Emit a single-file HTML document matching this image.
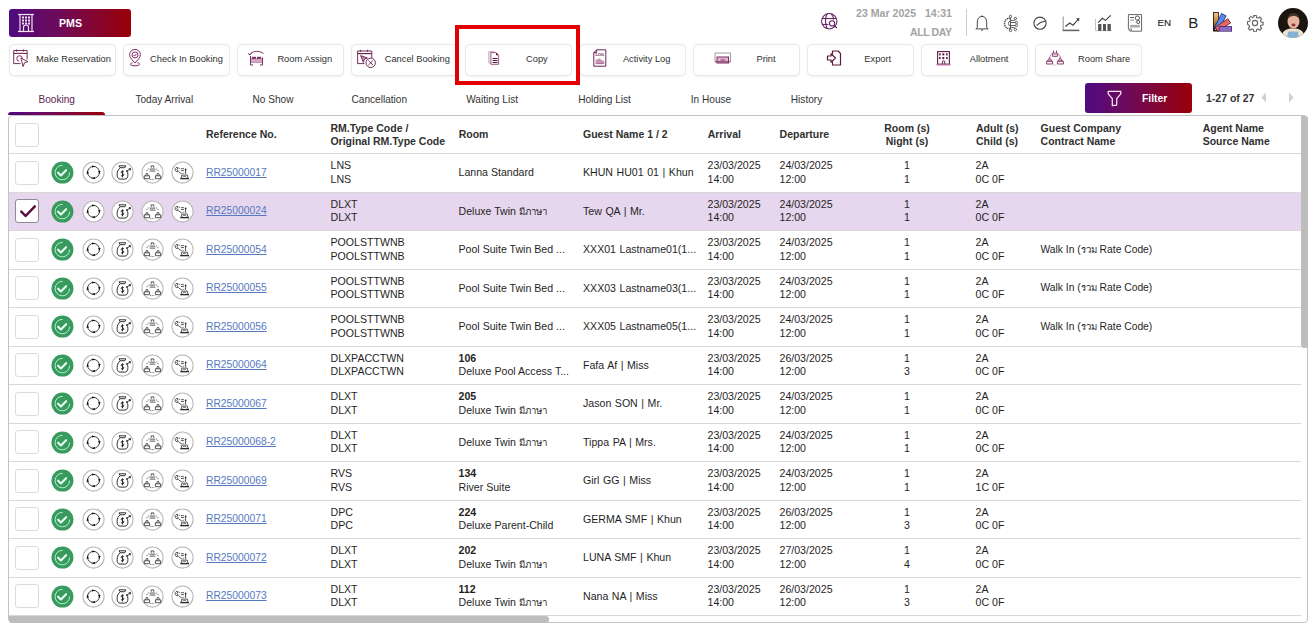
<!DOCTYPE html>
<html><head><meta charset="utf-8"><title>PMS Booking</title><style>
.th{font-size:9.6px}
*{margin:0;padding:0;box-sizing:border-box}
html,body{width:1315px;height:630px;overflow:hidden;background:#fff}
body{position:relative;font-family:"Liberation Sans",sans-serif;color:#2b2b2b}
.a{position:absolute;white-space:pre;line-height:14px}
.grad{background:linear-gradient(90deg,#4e0b80 0%,#6e0a5a 40%,#9a0008 100%)}
.btn{position:absolute;top:44px;height:31.8px;width:107.8px;border:1px solid #e9e9e9;border-radius:5px;background:#fff;box-shadow:0 0.5px 1.5px rgba(0,0,0,0.06)}
.bt{position:absolute;top:53px;font-size:9.3px;line-height:12px;color:#303030;white-space:pre}
.tab{position:absolute;top:93.7px;font-size:10.1px;line-height:12px;color:#333;white-space:pre}
.hd{position:absolute;font-weight:bold;font-size:10.5px;line-height:13px;color:#303030;white-space:pre}
.t{position:absolute;font-size:10.6px;line-height:14px;color:#1f1f1f;white-space:pre}
.row{position:absolute;left:9px;width:1292px;height:39px;border-bottom:1px solid #dedede}
.cb{position:absolute;left:15px;width:24px;height:24px;border:1px solid #dcdbe3;border-radius:3px;background:#fff}
.ic{position:absolute;width:22px;height:22px}
.lnk{color:#5679c0;text-decoration:underline;text-decoration-thickness:1px;text-underline-offset:1px}
</style></head>
<body>
<div class="grad" style="position:absolute;left:9px;top:9px;width:122px;height:28px;border-radius:3px"></div>
<svg style="position:absolute;left:17px;top:13px" width="18" height="20" viewBox="0 0 18 20">
<g fill="none" stroke="#f0e6f0" stroke-width="1.2">
<line x1="1" y1="1.5" x2="17" y2="1.5"/><line x1="1" y1="18.5" x2="17" y2="18.5"/>
<line x1="3" y1="1.5" x2="3" y2="18.5"/><line x1="15" y1="1.5" x2="15" y2="18.5"/>
<path d="M6.5 18.5 V14.5 a2.5 2.5 0 0 1 5 0 V18.5"/>
</g>
<g fill="#f0e6f0">
<rect x="5" y="3.5" width="2" height="2"/><rect x="8" y="3.5" width="2" height="2"/><rect x="11" y="3.5" width="2" height="2"/>
<rect x="5" y="6.5" width="2" height="2"/><rect x="8" y="6.5" width="2" height="2"/><rect x="11" y="6.5" width="2" height="2"/>
<rect x="5" y="9.5" width="2" height="2"/><rect x="8" y="9.5" width="2" height="2"/><rect x="11" y="9.5" width="2" height="2"/>
</g></svg>
<div class="a" style="left:59px;top:15.8px;font-size:10.6px;font-weight:bold;color:#fff;line-height:14px">PMS</div>
<svg style="position:absolute;left:816px;top:8px" width="28" height="26" viewBox="0 0 28 26">
<g fill="none" stroke="#5e1c5e" stroke-width="1.05">
<circle cx="13.25" cy="13.25" r="7.7"/><path d="M11.2 6 C9 9 9 17 11.2 20.5"/><path d="M15.3 6 C17 8 17.6 10 17.5 11.5"/><line x1="6" y1="10.6" x2="20.5" y2="10.6"/><line x1="6" y1="16.4" x2="12.5" y2="16.4"/>
<circle cx="16.1" cy="15.4" r="2.6" fill="#fff"/><line x1="18" y1="17.3" x2="20.8" y2="20"/>
</g></svg>
<div class="a" style="left:856px;top:6px;font-size:10.6px;font-weight:bold;color:#a3a3a3">23 Mar 2025   14:31</div>
<div class="a" style="left:910px;top:25.2px;font-size:10.5px;letter-spacing:-0.4px;font-weight:bold;color:#a3a3a3">ALL DAY</div>
<div style="position:absolute;left:966px;top:9px;width:1px;height:27px;background:#cfcfcf"></div>
<svg style="position:absolute;left:974px;top:13px" width="16" height="19" viewBox="0 0 16 19">
<g fill="none" stroke="#4a4a4a" stroke-width="1"><path d="M3.3 14.6 V9.2 C3.3 5.6 5.2 3.4 8 3.4 C10.8 3.4 12.7 5.6 12.7 9.2 V14.6 L14.2 15.9 H1.8 Z" stroke-linejoin="round"/></g>
<path d="M7 3.3 L8 2.2 L9 3.3 Z" fill="#4a4a4a"/><rect x="7" y="16.6" width="2" height="1" fill="#4a4a4a"/></svg>
<svg style="position:absolute;left:1000px;top:12px" width="22" height="22" viewBox="0 0 22 22">
<g fill="none" stroke="#555" stroke-width="0.95">
<line x1="10.5" y1="5.6" x2="10.5" y2="17.3"/>
<circle cx="10.5" cy="4.4" r="1.2"/><circle cx="10.5" cy="18.5" r="1.2"/>
<circle cx="15.4" cy="6.5" r="1.2"/><circle cx="16.4" cy="10.5" r="1.1"/><circle cx="16.4" cy="13.5" r="1.1"/><circle cx="15.4" cy="17.5" r="1.2"/>
<path d="M10.5 8.4 H14.5 L15.2 7.6 M10.5 10.5 H15.3 M10.5 13.5 H15.3 M10.5 15.6 H14.5 L15 16.4"/>
<path d="M10 6.3 C6 6.3 4.5 9 4.6 11.5 C4.5 14 6 16.7 10 16.7" stroke-width="1.6" stroke-dasharray="1.3 0.7"/>
<path d="M10.5 8.8 A2.8 2.8 0 0 0 10.5 14.2"/>
</g></svg>
<svg style="position:absolute;left:1033px;top:16px" width="14" height="14" viewBox="0 0 14 14">
<g fill="none" stroke="#444" stroke-width="1.1"><circle cx="7" cy="7.2" r="6.1"/><path d="M3.6 9.4 C6 7 9 5.6 12.6 5"/></g></svg>
<svg style="position:absolute;left:1060px;top:14px" width="22" height="19" viewBox="0 0 22 19">
<path d="M3.2 2.5 V16.2" stroke="#9a9a9a" stroke-width="1.1"/><path d="M2.7 16.4 H19.4" stroke="#666" stroke-width="1.6"/>
<path d="M5.4 12.5 L9.7 9 L13 11.2 L18.6 5" fill="none" stroke="#3e3e3e" stroke-width="1.1"/><path d="M16 4.4 L19.4 4 L19 7.4 Z" fill="#3e3e3e"/>
</svg>
<svg style="position:absolute;left:1090px;top:10px" width="24" height="24" viewBox="0 0 24 24">
<path d="M5.5 9 V20.7 H21.8" fill="none" stroke="#c4c4c4" stroke-width="1"/>
<g fill="#555"><rect x="8.1" y="14" width="3.3" height="6.9"/><rect x="13" y="14" width="3" height="6.9"/><rect x="17.5" y="14" width="3.3" height="6.9"/></g>
<path d="M8.1 12.6 L12.4 8.3 L15.5 10.4 L20.7 5.3" fill="none" stroke="#3e3e3e" stroke-width="1.1"/>
</svg>
<svg style="position:absolute;left:1126px;top:10px" width="18" height="24" viewBox="36 0 18 24">
<path d="M38.4 4.6 H51.6 V21.2 H41.2 C40 21.2 38.4 20 38.4 18.4 Z" fill="none" stroke="#666" stroke-width="1"/>
<circle cx="40.6" cy="19.6" r="1" fill="none" stroke="#666" stroke-width="0.9"/>
<circle cx="47.4" cy="8.1" r="2.1" fill="none" stroke="#555" stroke-width="1"/><circle cx="48.2" cy="12" r="1.6" fill="none" stroke="#555" stroke-width="1"/>
<rect x="40.2" y="7" width="3.8" height="1" fill="#555"/><rect x="40.2" y="9.4" width="3.8" height="1.4" fill="#aaa"/><rect x="45.5" y="11.5" width="1.6" height="1" fill="#999"/>
<rect x="40.2" y="14.9" width="9.6" height="2.6" fill="#a9a9a9"/>
</svg>
<div class="a" style="left:1157.5px;top:16.3px;font-size:9.8px;color:#222;-webkit-text-stroke:0.12px #222">EN</div>
<div class="a" style="left:1188.3px;top:13.6px;font-size:15px;color:#222;line-height:18px">B</div>
<svg style="position:absolute;left:1208px;top:8px" width="28" height="28" viewBox="0 0 28 28">
<defs><linearGradient id="tan" x1="0" y1="0" x2="0" y2="1"><stop offset="0" stop-color="#f3c98a"/><stop offset="0.55" stop-color="#c98c3e"/><stop offset="1" stop-color="#6e4515"/></linearGradient></defs>
<rect x="5" y="4" width="5.8" height="19.5" fill="#1a120c"/>
<rect x="5.8" y="4.8" width="4.2" height="14.5" fill="url(#tan)"/>
<circle cx="7.6" cy="21.3" r="0.8" fill="#fff"/>
<g transform="rotate(27 8.2 21.5)"><rect x="5.4" y="4.5" width="5.8" height="17" fill="#1c2f6e"/><rect x="6.1" y="5.2" width="4.4" height="15.6" fill="#5b8be8"/></g>
<g transform="rotate(56 8.2 21.5)"><rect x="5.5" y="5.5" width="5.6" height="16" fill="#6a2525"/><rect x="6.2" y="6.2" width="4.2" height="14.6" fill="#e46a6a"/></g>
<rect x="10.8" y="18.2" width="13.2" height="5.4" fill="#35215e"/>
<rect x="11.5" y="18.9" width="11.8" height="4" fill="#8e6bc9"/>
</svg>
<svg style="position:absolute;left:1246px;top:14px" width="18" height="18" viewBox="0 0 24 24">
<g fill="none" stroke="#666" stroke-width="1.5"><circle cx="12" cy="12" r="3.5"/>
<path d="M10.3 2h3.4l.5 2.8 1.9.8 2.3-1.6 2.4 2.4-1.6 2.3.8 1.9 2.8.5v3.4l-2.8.5-.8 1.9 1.6 2.3-2.4 2.4-2.3-1.6-1.9.8-.5 2.8h-3.4l-.5-2.8-1.9-.8-2.3 1.6-2.4-2.4 1.6-2.3-.8-1.9L2 13.7v-3.4l2.8-.5.8-1.9L4 5.6 6.4 3.2l2.3 1.6 1.9-.8z"/></g></svg>
<svg style="position:absolute;left:1278px;top:8px" width="30" height="30" viewBox="0 0 30 30">
<defs><clipPath id="av"><circle cx="15" cy="15" r="15"/></clipPath></defs>
<g clip-path="url(#av)">
<rect width="30" height="30" fill="#1b1512"/>
<path d="M3 30 C4 22 9 20.5 15 20.5 C21 20.5 26 22 27 30 Z" fill="#eee3c8"/>
<path d="M9 30 L10 23.5 H20 L21 30 Z" fill="#86b2d6"/>
<ellipse cx="15.5" cy="13.5" rx="6" ry="7" fill="#e7b49b"/>
<path d="M9.5 11 C10 6 13 5 16 5.2 C19.5 5.4 21.5 8 21.5 11 C20 8.5 17 8 15.5 8 C13 8 11 9 9.5 11 Z" fill="#4a3328"/>
<ellipse cx="15.5" cy="17" rx="2" ry="1.4" fill="#8a3a3a"/>
</g></svg>
<div class="btn" style="left:8.6px"></div>
<div class="bt" style="left:36.0px">Make Reservation</div>
<div class="btn" style="left:122.6px"></div>
<div class="bt" style="left:150.0px">Check In Booking</div>
<div class="btn" style="left:236.6px"></div>
<div class="bt" style="left:277.4px">Room Assign</div>
<div class="btn" style="left:350.6px"></div>
<div class="bt" style="left:384.7px">Cancel Booking</div>
<div class="btn" style="left:464.6px"></div>
<div class="bt" style="left:526.0px">Copy</div>
<div class="btn" style="left:578.6px"></div>
<div class="bt" style="left:622.9px">Activity Log</div>
<div class="btn" style="left:692.6px"></div>
<div class="bt" style="left:756.5px">Print</div>
<div class="btn" style="left:806.6px"></div>
<div class="bt" style="left:864.3px">Export</div>
<div class="btn" style="left:920.6px"></div>
<div class="bt" style="left:969.7px">Allotment</div>
<div class="btn" style="left:1034.6px"></div>
<div class="bt" style="left:1078.0px">Room Share</div>
<svg style="position:absolute;left:13px;top:49px" width="16" height="19" viewBox="0 0 16 19"><g fill="none" stroke="#6e2552" stroke-width="0.95"><path d="M0.7 1.5 H14.1 V10.5 M0.7 1.5 V14.6 H7.6"/><line x1="0.7" y1="4.4" x2="14.1" y2="4.4" stroke-width="1.1"/><line x1="3.6" y1="0.4" x2="3.6" y2="2.6"/><line x1="10.4" y1="0.4" x2="10.4" y2="2.6"/><path d="M6.2 12.3 A2.8 2.8 0 1 1 9.4 9.2"/><path d="M7.9 9 L15 12.7 L11.6 13.6 L10.1 17.6 Z" stroke-linejoin="round" fill="#fff"/></g></svg>
<svg style="position:absolute;left:128px;top:49px" width="14" height="18" viewBox="0 0 14 18"><g fill="none" stroke="#7d2e62" stroke-width="1"><path d="M7 14 L2.8 9.2 A5.4 5.4 0 1 1 11.2 9.2 Z" stroke-linejoin="round"/><circle cx="7" cy="5.9" r="3"/><path d="M5.6 6 L6.6 7 L8.5 4.9"/><path d="M4.5 13.8 C1.5 14.2 1.2 16.8 7 16.8 C12.8 16.8 12.5 14.2 9.5 13.8"/></g></svg>
<svg style="position:absolute;left:247px;top:50px" width="18" height="16" viewBox="0 0 18 16"><g fill="none" stroke="#7d2e62" stroke-width="1"><path d="M3 4.5 C6 0.5 12 0.5 16.5 3.5"/><path d="M1 3.5 L3 5 L4.5 2.5"/><path d="M3.5 6 V15 M3.5 12 H15.5 M15.5 7.5 V15 M3.5 9 H15.5 M3.5 15 H6 M13 15 H15.5"/></g><rect x="5" y="6.8" width="4" height="2" fill="#7d2e62"/><rect x="10" y="6.8" width="4" height="2" fill="#7d2e62"/><rect x="4" y="9.5" width="11" height="2.3" fill="#d8a8c6"/></svg>
<svg style="position:absolute;left:356px;top:49px" width="21" height="20" viewBox="0 0 21 20"><g fill="none" stroke="#6e2552" stroke-width="0.95"><path d="M1.6 2 H15.8 V9.5 M1.6 2 V14.6 H8.5"/><line x1="1.6" y1="4.6" x2="15.8" y2="4.6" stroke-width="1.2"/><line x1="4.6" y1="0.8" x2="4.6" y2="3"/><line x1="11.6" y1="0.8" x2="11.6" y2="3"/><path d="M4.6 6.6 L11.4 9 L8.4 10.2 L7.4 13.4 Z" fill="#c98ab3"/><circle cx="14.7" cy="13.8" r="4.7" fill="#fff"/><path d="M12.4 11.5 L17 16.1 M17 11.5 L12.4 16.1"/></g></svg>
<svg style="position:absolute;left:488px;top:51px" width="12" height="14" viewBox="0 0 12 14"><path d="M0.8 0.6 H6 V12 H0.8 Z" fill="#f3e6ef" stroke="#c9a3bd" stroke-width="0.9"/><path d="M2.9 1.6 H8 L10.6 4.2 V13.3 H2.9 Z" fill="#fff" stroke="#8a4a74" stroke-width="0.9"/><g stroke="#4d1535" stroke-width="1"><line x1="4.6" y1="7.5" x2="9.6" y2="7.5"/><line x1="4.6" y1="9.5" x2="9.6" y2="9.5"/><line x1="4.6" y1="11.5" x2="9.6" y2="11.5"/></g><path d="M8 1.6 L10.6 4.2 H8 Z" fill="#4d1535"/></svg>
<svg style="position:absolute;left:593px;top:49px" width="14" height="18" viewBox="0 0 14 18"><path d="M3.6 0.8 H12.8 V17.2 H0.8 V3.6 Z M0.8 3.6 H3.6 V0.8" fill="none" stroke="#6e2552" stroke-width="1" stroke-linejoin="round"/><text x="2.4" y="7.4" font-size="4.2" font-weight="bold" font-family="Liberation Sans, sans-serif" fill="#6e2552" textLength="8.6">LOG</text><path d="M2.6 14.2 V10.6 H5 V9.4 H7.6 V11 H9.6 V12 H11.2 V14.2 Z" fill="#c793b5"/><rect x="2.6" y="14.2" width="8.6" height="0.9" fill="#9a5a84"/></svg>
<svg style="position:absolute;left:714px;top:52px" width="18" height="12" viewBox="0 0 18 12"><path d="M1 9.5 V1 H16.5 V9.5" fill="none" stroke="#9c8a96" stroke-width="0.9"/><rect x="3" y="5" width="11.5" height="6" fill="#e0b4cf" stroke="#7d2e62" stroke-width="1"/><line x1="1" y1="9.8" x2="16.5" y2="9.8" stroke="#7d2e62" stroke-width="1"/><line x1="6.5" y1="8" x2="11" y2="8" stroke="#7d2e62" stroke-width="0.9"/></svg>
<svg style="position:absolute;left:826px;top:50px" width="16" height="16" viewBox="0 0 16 16"><g fill="none" stroke="#5b1a3c" stroke-width="1.2" stroke-linejoin="round"><path d="M6.5 4.5 V1 H12 L14.5 3.5 V15 H6.5 V11.5"/><path d="M1.5 6 H5 V3.8 L9.5 8 L5 12.2 V10 H1.5 Z"/></g></svg>
<svg style="position:absolute;left:932px;top:47px" width="24" height="22" viewBox="0 0 24 22"><rect x="5.6" y="4.6" width="11.8" height="12.6" fill="none" stroke="#5e1d44" stroke-width="1.1"/><rect x="4.5" y="16.8" width="14" height="1.6" fill="#b76a9a"/><g fill="#5e1d44"><rect x="7.1" y="6.3" width="1.6" height="2.1"/><rect x="10.3" y="6.3" width="2" height="2.1"/><rect x="14" y="6.3" width="1.6" height="2.1"/><rect x="7.1" y="10" width="1.6" height="2.1"/><rect x="10.3" y="10" width="2" height="2.1"/><rect x="14" y="10" width="1.6" height="2.1"/></g><path d="M10.4 16.8 V14.9 A1.2 1.2 0 0 1 12.8 14.9 V16.8" fill="none" stroke="#5e1d44" stroke-width="1"/></svg>
<svg style="position:absolute;left:1043px;top:47px" width="24" height="22" viewBox="0 0 24 22"><g fill="none" stroke="#7d2e62" stroke-width="0.9"><path d="M10.5 3.6 V6 M13.5 3.6 V6"/><path d="M9.4 6.2 H14.6 V9.3 H9.4 Z"/><path d="M6.5 10.5 C7.5 8 8.5 7 9.4 7 M14.6 7 C15.5 7 16.5 8 17.5 10.5" stroke="#b07aa0"/><path d="M4.4 14 L6.6 10.6 L8.8 14 Z M15 14 L17.2 10.6 L19.4 14 Z"/><path d="M3.6 14.2 H9.6 V17 H3.6 Z M14.4 14.2 H20.4 V17 H14.4 Z"/><path d="M10 18 H14" stroke="#b9a0b0" stroke-dasharray="1 0.8"/></g><path d="M5 13.6 L6.6 11.4 L8.2 13.6 Z M15.6 13.6 L17.2 11.4 L18.8 13.6 Z" fill="#c98ab3"/><rect x="9.9" y="6.8" width="4.2" height="1.5" fill="#d7a8c6"/></svg>
<div style="position:absolute;left:455px;top:25px;width:125px;height:60px;border:4px solid #e30000"></div>
<div class="tab" style="left:38.5px;color:#5b2550;">Booking</div>
<div class="tab" style="left:135.4px;">Today Arrival</div>
<div class="tab" style="left:252.5px;">No Show</div>
<div class="tab" style="left:351.5px;">Cancellation</div>
<div class="tab" style="left:466.2px;">Waiting List</div>
<div class="tab" style="left:578.2px;">Holding List</div>
<div class="tab" style="left:690.8px;">In House</div>
<div class="tab" style="left:790.8px;">History</div>
<div class="grad" style="position:absolute;left:1085px;top:83px;width:107px;height:30px;border-radius:3px"></div>
<svg style="position:absolute;left:1107px;top:90px" width="15" height="17" viewBox="0 0 15 17">
<path d="M1.2 1.3 H13.8 V3.8 L9.7 8.6 V15.1 L5.3 15.6 V8.6 L1.2 3.8 Z" fill="none" stroke="#fbe6f4" stroke-width="1.25" stroke-linejoin="round"/></svg>
<div class="a" style="left:1142px;top:91.8px;font-size:10.3px;font-weight:bold;color:#fff">Filter</div>
<div class="a" style="left:1206px;top:91px;font-size:10.5px;font-weight:bold;color:#333">1-27 of 27</div>
<svg style="position:absolute;left:1261px;top:92px" width="6" height="11" viewBox="0 0 6 11"><path d="M5 0.5 L0.5 5.5 L5 10.5 Z" fill="#cfcfcf"/></svg>
<svg style="position:absolute;left:1288px;top:92px" width="6" height="11" viewBox="0 0 6 11"><path d="M1 0.5 L5.5 5.5 L1 10.5 Z" fill="#cfcfcf"/></svg>
<div style="position:absolute;left:8px;top:115px;width:1300px;height:508px;border:1px solid #c2c2c2;border-radius:4px"></div>
<div class="grad" style="position:absolute;left:8px;top:112px;width:97px;height:3px;border-radius:3px 3px 0 0"></div>
<div style="position:absolute;left:9px;top:153px;width:1292px;height:1px;background:#d9d9d9"></div>
<div class="cb" style="top:123px"></div>
<div class="hd" style="left:206px;top:128px">Reference No.</div>
<div class="hd" style="left:330.4px;top:122px">RM.Type Code /<br>Original RM.Type Code</div>
<div class="hd" style="left:458.7px;top:128px">Room</div>
<div class="hd" style="left:583px;top:128px">Guest Name 1 / 2</div>
<div class="hd" style="left:707.7px;top:128px">Arrival</div>
<div class="hd" style="left:779.6px;top:128px">Departure</div>
<div class="hd" style="left:976px;top:122px">Adult (s)<br>Child (s)</div>
<div class="hd" style="left:1040.6px;top:122px">Guest Company<br>Contract Name</div>
<div class="hd" style="left:1202.7px;top:122px">Agent Name<br>Source Name</div>
<div class="hd" style="left:857px;top:122px;width:100px;text-align:center">Room (s)<br>Night (s)</div>
<div style="position:absolute;left:9px;top:191.5px;width:1292px;height:1px;background:#d9d9d9"></div>
<div class="cb" style="top:160.75px"></div>
<svg style="position:absolute;left:51px;top:161.25px" width="23" height="23" viewBox="0 0 23 23">
<circle cx="11.45" cy="11.6" r="11" fill="#389a5e"/>
<path d="M11.6 4.35 A7.25 7.25 0 1 0 18.6 11.6" fill="none" stroke="#b9f3cd" stroke-width="0.95"/>
<path d="M7.1 11.7 L9.9 14.5 L15.1 9.2" fill="none" stroke="#e6fff0" stroke-width="2.1" stroke-linecap="round" stroke-linejoin="round"/></svg><svg style="position:absolute;left:81.5px;top:161.25px" width="23" height="23" viewBox="-0.5 -0.5 23 23"><circle cx="11" cy="11" r="10.6" fill="#fff" stroke="#b9b9b9" stroke-width="1.05"/><circle cx="11" cy="10.8" r="5.9" fill="none" stroke="#222" stroke-width="0.85"/><path d="M9.6 3.9 L13 4.9 L9.6 6.1 Z M18.1 9.4 L16.9 12.8 L15.7 9.4 Z M12.4 17.7 L9 16.7 L12.4 15.5 Z M3.9 12.2 L5.1 8.8 L6.3 12.2 Z" fill="#111"/></svg><svg style="position:absolute;left:111.0px;top:161.25px" width="23" height="23" viewBox="-0.5 -0.5 23 23"><circle cx="11" cy="11" r="10.6" fill="#fff" stroke="#b9b9b9" stroke-width="1.05"/><g fill="none" stroke="#1a1a1a" stroke-width="0.9" stroke-linejoin="round"><path d="M7.6 4.3 H14.3 L13.3 6.2 H8.6 Z"/><path d="M8.4 6.5 C6.5 8 5.6 10.5 5.6 13.2 C5.6 16 6.6 17.6 8.6 17.6 H13.4 C15.4 17.6 16.4 16 16.4 13.2 C16.4 11.5 16 10 15.2 8.8"/><path d="M12.3 10.2 C11.6 9.5 9.6 9.6 9.7 10.9 C9.8 12 12.3 11.9 12.3 13.3 C12.3 14.6 10.2 14.8 9.4 13.9 M11 8.9 V15.8"/><path d="M14.5 10 L18.8 7.6"/></g><path d="M17 6.6 L19.6 6.9 L18.9 9.3 Z" fill="#2a2a2a"/></svg><svg style="position:absolute;left:141.0px;top:161.25px" width="23" height="23" viewBox="-0.5 -0.5 23 23"><circle cx="11" cy="11" r="10.6" fill="#fff" stroke="#b9b9b9" stroke-width="1.05"/><g fill="none" stroke="#2a2a2a" stroke-width="0.8"><path d="M9.7 6.2 V4.4 H12.3 V6.2"/><path d="M8.2 7.6 H13.8 M8.2 9.6 H13.8"/><path d="M7.3 7.3 Q5.6 8.3 4.9 10.4 M14.7 7.3 Q16.4 8.3 17.1 10.4" stroke-dasharray="1.2 0.8"/><path d="M2.8 17.2 V14.3 H8.1 V17.2 Z M13.9 17.2 V14.3 H19.2 V17.2 Z"/><path d="M4.2 14.2 L4.8 12 H6.1 L6.7 14.2 M15.3 14.2 L15.9 12 H17.2 L17.8 14.2"/><path d="M8.8 18 H13.2" stroke-dasharray="1 1.1"/></g></svg><svg style="position:absolute;left:171.0px;top:161.25px" width="23" height="23" viewBox="-0.5 -0.5 23 23"><circle cx="11" cy="11" r="10.6" fill="#fff" stroke="#b9b9b9" stroke-width="1.05"/><g fill="none" stroke="#2a2a2a" stroke-width="0.8"><path d="M6.6 6.3 C5 5.2 3.4 6.6 3.6 8.3 C3.8 9.8 5.4 10.6 6.8 9.8"/><path d="M6.6 6.3 L5.4 8 L6.8 9.8"/><path d="M7.4 6.8 H8.4 M9.4 7.2 H12.4 M9.4 9.1 H12.4 M7 10.2 L10.4 12.6 M11.2 12.4 L12.4 11.2 M14.1 8.4 V12.6"/><path d="M9.6 16.8 L10.4 13.6 H15.8 L16.6 16.8"/><path d="M11.2 15.8 C11.8 14.6 14.2 14.6 14.8 15.8"/></g><rect x="8.8" y="16.5" width="8.7" height="1.3" fill="#2a2a2a"/><circle cx="14.1" cy="7.9" r="0.9" fill="#2a2a2a"/></svg>
<div class="t lnk" style="left:206px;top:165.9px;font-size:10.3px">RR25000017</div>
<div class="t" style="left:330.5px;top:158.2px">LNS</div><div class="t" style="left:330.5px;top:171.7px">LNS</div>
<div class="t" style="left:458.5px;top:165.1px">Lanna Standard</div>
<div class="t" style="left:583px;top:165.1px;word-spacing:0.6px">KHUN HU01 01 | Khun</div>
<div class="t" style="left:707.5px;top:158.2px">23/03/2025</div><div class="t" style="left:707.5px;top:171.7px">14:00</div>
<div class="t" style="left:779.5px;top:158.2px">24/03/2025</div><div class="t" style="left:779.5px;top:171.7px">12:00</div>
<div class="t" style="left:867px;width:80px;text-align:center;top:158.2px">1</div><div class="t" style="left:867px;width:80px;text-align:center;top:171.7px">1</div>
<div class="t" style="left:975.5px;top:158.2px">2A</div><div class="t" style="left:975.5px;top:171.7px">0C 0F</div>
<div style="position:absolute;left:9px;top:192.5px;width:1292px;height:38.0px;background:#e7d7ee"></div>
<div style="position:absolute;left:9px;top:230.0px;width:1292px;height:1px;background:#d9d9d9"></div>
<div class="cb" style="top:199.25px;border-color:#8f8a95"><svg style="position:absolute;left:2.5px;top:3px" width="18" height="16" viewBox="0 0 18 16"><path d="M2.3 8.6 L6.6 13 L15.8 3.4" fill="none" stroke="#5a0b3d" stroke-width="2.5" stroke-linecap="round" stroke-linejoin="round"/></svg></div>
<svg style="position:absolute;left:51px;top:199.75px" width="23" height="23" viewBox="0 0 23 23">
<circle cx="11.45" cy="11.6" r="11" fill="#389a5e"/>
<path d="M11.6 4.35 A7.25 7.25 0 1 0 18.6 11.6" fill="none" stroke="#b9f3cd" stroke-width="0.95"/>
<path d="M7.1 11.7 L9.9 14.5 L15.1 9.2" fill="none" stroke="#e6fff0" stroke-width="2.1" stroke-linecap="round" stroke-linejoin="round"/></svg><svg style="position:absolute;left:81.5px;top:199.75px" width="23" height="23" viewBox="-0.5 -0.5 23 23"><circle cx="11" cy="11" r="10.6" fill="#fff" stroke="#b9b9b9" stroke-width="1.05"/><circle cx="11" cy="10.8" r="5.9" fill="none" stroke="#222" stroke-width="0.85"/><path d="M9.6 3.9 L13 4.9 L9.6 6.1 Z M18.1 9.4 L16.9 12.8 L15.7 9.4 Z M12.4 17.7 L9 16.7 L12.4 15.5 Z M3.9 12.2 L5.1 8.8 L6.3 12.2 Z" fill="#111"/></svg><svg style="position:absolute;left:111.0px;top:199.75px" width="23" height="23" viewBox="-0.5 -0.5 23 23"><circle cx="11" cy="11" r="10.6" fill="#fff" stroke="#b9b9b9" stroke-width="1.05"/><g fill="none" stroke="#1a1a1a" stroke-width="0.9" stroke-linejoin="round"><path d="M7.6 4.3 H14.3 L13.3 6.2 H8.6 Z"/><path d="M8.4 6.5 C6.5 8 5.6 10.5 5.6 13.2 C5.6 16 6.6 17.6 8.6 17.6 H13.4 C15.4 17.6 16.4 16 16.4 13.2 C16.4 11.5 16 10 15.2 8.8"/><path d="M12.3 10.2 C11.6 9.5 9.6 9.6 9.7 10.9 C9.8 12 12.3 11.9 12.3 13.3 C12.3 14.6 10.2 14.8 9.4 13.9 M11 8.9 V15.8"/><path d="M14.5 10 L18.8 7.6"/></g><path d="M17 6.6 L19.6 6.9 L18.9 9.3 Z" fill="#2a2a2a"/></svg><svg style="position:absolute;left:141.0px;top:199.75px" width="23" height="23" viewBox="-0.5 -0.5 23 23"><circle cx="11" cy="11" r="10.6" fill="#fff" stroke="#b9b9b9" stroke-width="1.05"/><g fill="none" stroke="#2a2a2a" stroke-width="0.8"><path d="M9.7 6.2 V4.4 H12.3 V6.2"/><path d="M8.2 7.6 H13.8 M8.2 9.6 H13.8"/><path d="M7.3 7.3 Q5.6 8.3 4.9 10.4 M14.7 7.3 Q16.4 8.3 17.1 10.4" stroke-dasharray="1.2 0.8"/><path d="M2.8 17.2 V14.3 H8.1 V17.2 Z M13.9 17.2 V14.3 H19.2 V17.2 Z"/><path d="M4.2 14.2 L4.8 12 H6.1 L6.7 14.2 M15.3 14.2 L15.9 12 H17.2 L17.8 14.2"/><path d="M8.8 18 H13.2" stroke-dasharray="1 1.1"/></g></svg><svg style="position:absolute;left:171.0px;top:199.75px" width="23" height="23" viewBox="-0.5 -0.5 23 23"><circle cx="11" cy="11" r="10.6" fill="#fff" stroke="#b9b9b9" stroke-width="1.05"/><g fill="none" stroke="#2a2a2a" stroke-width="0.8"><path d="M6.6 6.3 C5 5.2 3.4 6.6 3.6 8.3 C3.8 9.8 5.4 10.6 6.8 9.8"/><path d="M6.6 6.3 L5.4 8 L6.8 9.8"/><path d="M7.4 6.8 H8.4 M9.4 7.2 H12.4 M9.4 9.1 H12.4 M7 10.2 L10.4 12.6 M11.2 12.4 L12.4 11.2 M14.1 8.4 V12.6"/><path d="M9.6 16.8 L10.4 13.6 H15.8 L16.6 16.8"/><path d="M11.2 15.8 C11.8 14.6 14.2 14.6 14.8 15.8"/></g><rect x="8.8" y="16.5" width="8.7" height="1.3" fill="#2a2a2a"/><circle cx="14.1" cy="7.9" r="0.9" fill="#2a2a2a"/></svg>
<div class="t lnk" style="left:206px;top:204.4px;font-size:10.3px">RR25000024</div>
<div class="t" style="left:330.5px;top:196.7px">DLXT</div><div class="t" style="left:330.5px;top:210.2px">DLXT</div>
<div class="t" style="left:458.5px;top:203.6px">Deluxe Twin <span class="th">มีภาษา</span></div>
<div class="t" style="left:583px;top:203.6px;word-spacing:0.6px">Tew QA | Mr.</div>
<div class="t" style="left:707.5px;top:196.7px">23/03/2025</div><div class="t" style="left:707.5px;top:210.2px">14:00</div>
<div class="t" style="left:779.5px;top:196.7px">24/03/2025</div><div class="t" style="left:779.5px;top:210.2px">12:00</div>
<div class="t" style="left:867px;width:80px;text-align:center;top:196.7px">1</div><div class="t" style="left:867px;width:80px;text-align:center;top:210.2px">1</div>
<div class="t" style="left:975.5px;top:196.7px">2A</div><div class="t" style="left:975.5px;top:210.2px">0C 0F</div>
<div style="position:absolute;left:9px;top:268.5px;width:1292px;height:1px;background:#d9d9d9"></div>
<div class="cb" style="top:237.75px"></div>
<svg style="position:absolute;left:51px;top:238.25px" width="23" height="23" viewBox="0 0 23 23">
<circle cx="11.45" cy="11.6" r="11" fill="#389a5e"/>
<path d="M11.6 4.35 A7.25 7.25 0 1 0 18.6 11.6" fill="none" stroke="#b9f3cd" stroke-width="0.95"/>
<path d="M7.1 11.7 L9.9 14.5 L15.1 9.2" fill="none" stroke="#e6fff0" stroke-width="2.1" stroke-linecap="round" stroke-linejoin="round"/></svg><svg style="position:absolute;left:81.5px;top:238.25px" width="23" height="23" viewBox="-0.5 -0.5 23 23"><circle cx="11" cy="11" r="10.6" fill="#fff" stroke="#b9b9b9" stroke-width="1.05"/><circle cx="11" cy="10.8" r="5.9" fill="none" stroke="#222" stroke-width="0.85"/><path d="M9.6 3.9 L13 4.9 L9.6 6.1 Z M18.1 9.4 L16.9 12.8 L15.7 9.4 Z M12.4 17.7 L9 16.7 L12.4 15.5 Z M3.9 12.2 L5.1 8.8 L6.3 12.2 Z" fill="#111"/></svg><svg style="position:absolute;left:111.0px;top:238.25px" width="23" height="23" viewBox="-0.5 -0.5 23 23"><circle cx="11" cy="11" r="10.6" fill="#fff" stroke="#b9b9b9" stroke-width="1.05"/><g fill="none" stroke="#1a1a1a" stroke-width="0.9" stroke-linejoin="round"><path d="M7.6 4.3 H14.3 L13.3 6.2 H8.6 Z"/><path d="M8.4 6.5 C6.5 8 5.6 10.5 5.6 13.2 C5.6 16 6.6 17.6 8.6 17.6 H13.4 C15.4 17.6 16.4 16 16.4 13.2 C16.4 11.5 16 10 15.2 8.8"/><path d="M12.3 10.2 C11.6 9.5 9.6 9.6 9.7 10.9 C9.8 12 12.3 11.9 12.3 13.3 C12.3 14.6 10.2 14.8 9.4 13.9 M11 8.9 V15.8"/><path d="M14.5 10 L18.8 7.6"/></g><path d="M17 6.6 L19.6 6.9 L18.9 9.3 Z" fill="#2a2a2a"/></svg><svg style="position:absolute;left:141.0px;top:238.25px" width="23" height="23" viewBox="-0.5 -0.5 23 23"><circle cx="11" cy="11" r="10.6" fill="#fff" stroke="#b9b9b9" stroke-width="1.05"/><g fill="none" stroke="#2a2a2a" stroke-width="0.8"><path d="M9.7 6.2 V4.4 H12.3 V6.2"/><path d="M8.2 7.6 H13.8 M8.2 9.6 H13.8"/><path d="M7.3 7.3 Q5.6 8.3 4.9 10.4 M14.7 7.3 Q16.4 8.3 17.1 10.4" stroke-dasharray="1.2 0.8"/><path d="M2.8 17.2 V14.3 H8.1 V17.2 Z M13.9 17.2 V14.3 H19.2 V17.2 Z"/><path d="M4.2 14.2 L4.8 12 H6.1 L6.7 14.2 M15.3 14.2 L15.9 12 H17.2 L17.8 14.2"/><path d="M8.8 18 H13.2" stroke-dasharray="1 1.1"/></g></svg><svg style="position:absolute;left:171.0px;top:238.25px" width="23" height="23" viewBox="-0.5 -0.5 23 23"><circle cx="11" cy="11" r="10.6" fill="#fff" stroke="#b9b9b9" stroke-width="1.05"/><g fill="none" stroke="#2a2a2a" stroke-width="0.8"><path d="M6.6 6.3 C5 5.2 3.4 6.6 3.6 8.3 C3.8 9.8 5.4 10.6 6.8 9.8"/><path d="M6.6 6.3 L5.4 8 L6.8 9.8"/><path d="M7.4 6.8 H8.4 M9.4 7.2 H12.4 M9.4 9.1 H12.4 M7 10.2 L10.4 12.6 M11.2 12.4 L12.4 11.2 M14.1 8.4 V12.6"/><path d="M9.6 16.8 L10.4 13.6 H15.8 L16.6 16.8"/><path d="M11.2 15.8 C11.8 14.6 14.2 14.6 14.8 15.8"/></g><rect x="8.8" y="16.5" width="8.7" height="1.3" fill="#2a2a2a"/><circle cx="14.1" cy="7.9" r="0.9" fill="#2a2a2a"/></svg>
<div class="t lnk" style="left:206px;top:242.9px;font-size:10.3px">RR25000054</div>
<div class="t" style="left:330.5px;top:235.2px">POOLSTTWNB</div><div class="t" style="left:330.5px;top:248.7px">POOLSTTWNB</div>
<div class="t" style="left:458.5px;top:242.1px">Pool Suite Twin Bed ...</div>
<div class="t" style="left:583px;top:242.1px;word-spacing:0.6px">XXX01 Lastname01(1...</div>
<div class="t" style="left:707.5px;top:235.2px">23/03/2025</div><div class="t" style="left:707.5px;top:248.7px">14:00</div>
<div class="t" style="left:779.5px;top:235.2px">24/03/2025</div><div class="t" style="left:779.5px;top:248.7px">12:00</div>
<div class="t" style="left:867px;width:80px;text-align:center;top:235.2px">1</div><div class="t" style="left:867px;width:80px;text-align:center;top:248.7px">1</div>
<div class="t" style="left:975.5px;top:235.2px">2A</div><div class="t" style="left:975.5px;top:248.7px">0C 0F</div>
<div class="t" style="left:1040.5px;top:242.79999999999998px;font-size:10.3px">Walk In (<span class="th">รวม</span> Rate Code)</div>
<div style="position:absolute;left:9px;top:307.0px;width:1292px;height:1px;background:#d9d9d9"></div>
<div class="cb" style="top:276.25px"></div>
<svg style="position:absolute;left:51px;top:276.75px" width="23" height="23" viewBox="0 0 23 23">
<circle cx="11.45" cy="11.6" r="11" fill="#389a5e"/>
<path d="M11.6 4.35 A7.25 7.25 0 1 0 18.6 11.6" fill="none" stroke="#b9f3cd" stroke-width="0.95"/>
<path d="M7.1 11.7 L9.9 14.5 L15.1 9.2" fill="none" stroke="#e6fff0" stroke-width="2.1" stroke-linecap="round" stroke-linejoin="round"/></svg><svg style="position:absolute;left:81.5px;top:276.75px" width="23" height="23" viewBox="-0.5 -0.5 23 23"><circle cx="11" cy="11" r="10.6" fill="#fff" stroke="#b9b9b9" stroke-width="1.05"/><circle cx="11" cy="10.8" r="5.9" fill="none" stroke="#222" stroke-width="0.85"/><path d="M9.6 3.9 L13 4.9 L9.6 6.1 Z M18.1 9.4 L16.9 12.8 L15.7 9.4 Z M12.4 17.7 L9 16.7 L12.4 15.5 Z M3.9 12.2 L5.1 8.8 L6.3 12.2 Z" fill="#111"/></svg><svg style="position:absolute;left:111.0px;top:276.75px" width="23" height="23" viewBox="-0.5 -0.5 23 23"><circle cx="11" cy="11" r="10.6" fill="#fff" stroke="#b9b9b9" stroke-width="1.05"/><g fill="none" stroke="#1a1a1a" stroke-width="0.9" stroke-linejoin="round"><path d="M7.6 4.3 H14.3 L13.3 6.2 H8.6 Z"/><path d="M8.4 6.5 C6.5 8 5.6 10.5 5.6 13.2 C5.6 16 6.6 17.6 8.6 17.6 H13.4 C15.4 17.6 16.4 16 16.4 13.2 C16.4 11.5 16 10 15.2 8.8"/><path d="M12.3 10.2 C11.6 9.5 9.6 9.6 9.7 10.9 C9.8 12 12.3 11.9 12.3 13.3 C12.3 14.6 10.2 14.8 9.4 13.9 M11 8.9 V15.8"/><path d="M14.5 10 L18.8 7.6"/></g><path d="M17 6.6 L19.6 6.9 L18.9 9.3 Z" fill="#2a2a2a"/></svg><svg style="position:absolute;left:141.0px;top:276.75px" width="23" height="23" viewBox="-0.5 -0.5 23 23"><circle cx="11" cy="11" r="10.6" fill="#fff" stroke="#b9b9b9" stroke-width="1.05"/><g fill="none" stroke="#2a2a2a" stroke-width="0.8"><path d="M9.7 6.2 V4.4 H12.3 V6.2"/><path d="M8.2 7.6 H13.8 M8.2 9.6 H13.8"/><path d="M7.3 7.3 Q5.6 8.3 4.9 10.4 M14.7 7.3 Q16.4 8.3 17.1 10.4" stroke-dasharray="1.2 0.8"/><path d="M2.8 17.2 V14.3 H8.1 V17.2 Z M13.9 17.2 V14.3 H19.2 V17.2 Z"/><path d="M4.2 14.2 L4.8 12 H6.1 L6.7 14.2 M15.3 14.2 L15.9 12 H17.2 L17.8 14.2"/><path d="M8.8 18 H13.2" stroke-dasharray="1 1.1"/></g></svg><svg style="position:absolute;left:171.0px;top:276.75px" width="23" height="23" viewBox="-0.5 -0.5 23 23"><circle cx="11" cy="11" r="10.6" fill="#fff" stroke="#b9b9b9" stroke-width="1.05"/><g fill="none" stroke="#2a2a2a" stroke-width="0.8"><path d="M6.6 6.3 C5 5.2 3.4 6.6 3.6 8.3 C3.8 9.8 5.4 10.6 6.8 9.8"/><path d="M6.6 6.3 L5.4 8 L6.8 9.8"/><path d="M7.4 6.8 H8.4 M9.4 7.2 H12.4 M9.4 9.1 H12.4 M7 10.2 L10.4 12.6 M11.2 12.4 L12.4 11.2 M14.1 8.4 V12.6"/><path d="M9.6 16.8 L10.4 13.6 H15.8 L16.6 16.8"/><path d="M11.2 15.8 C11.8 14.6 14.2 14.6 14.8 15.8"/></g><rect x="8.8" y="16.5" width="8.7" height="1.3" fill="#2a2a2a"/><circle cx="14.1" cy="7.9" r="0.9" fill="#2a2a2a"/></svg>
<div class="t lnk" style="left:206px;top:281.40000000000003px;font-size:10.3px">RR25000055</div>
<div class="t" style="left:330.5px;top:273.7px">POOLSTTWNB</div><div class="t" style="left:330.5px;top:287.2px">POOLSTTWNB</div>
<div class="t" style="left:458.5px;top:280.6px">Pool Suite Twin Bed ...</div>
<div class="t" style="left:583px;top:280.6px;word-spacing:0.6px">XXX03 Lastname03(1...</div>
<div class="t" style="left:707.5px;top:273.7px">23/03/2025</div><div class="t" style="left:707.5px;top:287.2px">14:00</div>
<div class="t" style="left:779.5px;top:273.7px">24/03/2025</div><div class="t" style="left:779.5px;top:287.2px">12:00</div>
<div class="t" style="left:867px;width:80px;text-align:center;top:273.7px">1</div><div class="t" style="left:867px;width:80px;text-align:center;top:287.2px">1</div>
<div class="t" style="left:975.5px;top:273.7px">2A</div><div class="t" style="left:975.5px;top:287.2px">0C 0F</div>
<div class="t" style="left:1040.5px;top:281.3px;font-size:10.3px">Walk In (<span class="th">รวม</span> Rate Code)</div>
<div style="position:absolute;left:9px;top:345.5px;width:1292px;height:1px;background:#d9d9d9"></div>
<div class="cb" style="top:314.75px"></div>
<svg style="position:absolute;left:51px;top:315.25px" width="23" height="23" viewBox="0 0 23 23">
<circle cx="11.45" cy="11.6" r="11" fill="#389a5e"/>
<path d="M11.6 4.35 A7.25 7.25 0 1 0 18.6 11.6" fill="none" stroke="#b9f3cd" stroke-width="0.95"/>
<path d="M7.1 11.7 L9.9 14.5 L15.1 9.2" fill="none" stroke="#e6fff0" stroke-width="2.1" stroke-linecap="round" stroke-linejoin="round"/></svg><svg style="position:absolute;left:81.5px;top:315.25px" width="23" height="23" viewBox="-0.5 -0.5 23 23"><circle cx="11" cy="11" r="10.6" fill="#fff" stroke="#b9b9b9" stroke-width="1.05"/><circle cx="11" cy="10.8" r="5.9" fill="none" stroke="#222" stroke-width="0.85"/><path d="M9.6 3.9 L13 4.9 L9.6 6.1 Z M18.1 9.4 L16.9 12.8 L15.7 9.4 Z M12.4 17.7 L9 16.7 L12.4 15.5 Z M3.9 12.2 L5.1 8.8 L6.3 12.2 Z" fill="#111"/></svg><svg style="position:absolute;left:111.0px;top:315.25px" width="23" height="23" viewBox="-0.5 -0.5 23 23"><circle cx="11" cy="11" r="10.6" fill="#fff" stroke="#b9b9b9" stroke-width="1.05"/><g fill="none" stroke="#1a1a1a" stroke-width="0.9" stroke-linejoin="round"><path d="M7.6 4.3 H14.3 L13.3 6.2 H8.6 Z"/><path d="M8.4 6.5 C6.5 8 5.6 10.5 5.6 13.2 C5.6 16 6.6 17.6 8.6 17.6 H13.4 C15.4 17.6 16.4 16 16.4 13.2 C16.4 11.5 16 10 15.2 8.8"/><path d="M12.3 10.2 C11.6 9.5 9.6 9.6 9.7 10.9 C9.8 12 12.3 11.9 12.3 13.3 C12.3 14.6 10.2 14.8 9.4 13.9 M11 8.9 V15.8"/><path d="M14.5 10 L18.8 7.6"/></g><path d="M17 6.6 L19.6 6.9 L18.9 9.3 Z" fill="#2a2a2a"/></svg><svg style="position:absolute;left:141.0px;top:315.25px" width="23" height="23" viewBox="-0.5 -0.5 23 23"><circle cx="11" cy="11" r="10.6" fill="#fff" stroke="#b9b9b9" stroke-width="1.05"/><g fill="none" stroke="#2a2a2a" stroke-width="0.8"><path d="M9.7 6.2 V4.4 H12.3 V6.2"/><path d="M8.2 7.6 H13.8 M8.2 9.6 H13.8"/><path d="M7.3 7.3 Q5.6 8.3 4.9 10.4 M14.7 7.3 Q16.4 8.3 17.1 10.4" stroke-dasharray="1.2 0.8"/><path d="M2.8 17.2 V14.3 H8.1 V17.2 Z M13.9 17.2 V14.3 H19.2 V17.2 Z"/><path d="M4.2 14.2 L4.8 12 H6.1 L6.7 14.2 M15.3 14.2 L15.9 12 H17.2 L17.8 14.2"/><path d="M8.8 18 H13.2" stroke-dasharray="1 1.1"/></g></svg><svg style="position:absolute;left:171.0px;top:315.25px" width="23" height="23" viewBox="-0.5 -0.5 23 23"><circle cx="11" cy="11" r="10.6" fill="#fff" stroke="#b9b9b9" stroke-width="1.05"/><g fill="none" stroke="#2a2a2a" stroke-width="0.8"><path d="M6.6 6.3 C5 5.2 3.4 6.6 3.6 8.3 C3.8 9.8 5.4 10.6 6.8 9.8"/><path d="M6.6 6.3 L5.4 8 L6.8 9.8"/><path d="M7.4 6.8 H8.4 M9.4 7.2 H12.4 M9.4 9.1 H12.4 M7 10.2 L10.4 12.6 M11.2 12.4 L12.4 11.2 M14.1 8.4 V12.6"/><path d="M9.6 16.8 L10.4 13.6 H15.8 L16.6 16.8"/><path d="M11.2 15.8 C11.8 14.6 14.2 14.6 14.8 15.8"/></g><rect x="8.8" y="16.5" width="8.7" height="1.3" fill="#2a2a2a"/><circle cx="14.1" cy="7.9" r="0.9" fill="#2a2a2a"/></svg>
<div class="t lnk" style="left:206px;top:319.90000000000003px;font-size:10.3px">RR25000056</div>
<div class="t" style="left:330.5px;top:312.2px">POOLSTTWNB</div><div class="t" style="left:330.5px;top:325.7px">POOLSTTWNB</div>
<div class="t" style="left:458.5px;top:319.1px">Pool Suite Twin Bed ...</div>
<div class="t" style="left:583px;top:319.1px;word-spacing:0.6px">XXX05 Lastname05(1...</div>
<div class="t" style="left:707.5px;top:312.2px">23/03/2025</div><div class="t" style="left:707.5px;top:325.7px">14:00</div>
<div class="t" style="left:779.5px;top:312.2px">24/03/2025</div><div class="t" style="left:779.5px;top:325.7px">12:00</div>
<div class="t" style="left:867px;width:80px;text-align:center;top:312.2px">1</div><div class="t" style="left:867px;width:80px;text-align:center;top:325.7px">1</div>
<div class="t" style="left:975.5px;top:312.2px">2A</div><div class="t" style="left:975.5px;top:325.7px">0C 0F</div>
<div class="t" style="left:1040.5px;top:319.8px;font-size:10.3px">Walk In (<span class="th">รวม</span> Rate Code)</div>
<div style="position:absolute;left:9px;top:384.0px;width:1292px;height:1px;background:#d9d9d9"></div>
<div class="cb" style="top:353.25px"></div>
<svg style="position:absolute;left:51px;top:353.75px" width="23" height="23" viewBox="0 0 23 23">
<circle cx="11.45" cy="11.6" r="11" fill="#389a5e"/>
<path d="M11.6 4.35 A7.25 7.25 0 1 0 18.6 11.6" fill="none" stroke="#b9f3cd" stroke-width="0.95"/>
<path d="M7.1 11.7 L9.9 14.5 L15.1 9.2" fill="none" stroke="#e6fff0" stroke-width="2.1" stroke-linecap="round" stroke-linejoin="round"/></svg><svg style="position:absolute;left:81.5px;top:353.75px" width="23" height="23" viewBox="-0.5 -0.5 23 23"><circle cx="11" cy="11" r="10.6" fill="#fff" stroke="#b9b9b9" stroke-width="1.05"/><circle cx="11" cy="10.8" r="5.9" fill="none" stroke="#222" stroke-width="0.85"/><path d="M9.6 3.9 L13 4.9 L9.6 6.1 Z M18.1 9.4 L16.9 12.8 L15.7 9.4 Z M12.4 17.7 L9 16.7 L12.4 15.5 Z M3.9 12.2 L5.1 8.8 L6.3 12.2 Z" fill="#111"/></svg><svg style="position:absolute;left:111.0px;top:353.75px" width="23" height="23" viewBox="-0.5 -0.5 23 23"><circle cx="11" cy="11" r="10.6" fill="#fff" stroke="#b9b9b9" stroke-width="1.05"/><g fill="none" stroke="#1a1a1a" stroke-width="0.9" stroke-linejoin="round"><path d="M7.6 4.3 H14.3 L13.3 6.2 H8.6 Z"/><path d="M8.4 6.5 C6.5 8 5.6 10.5 5.6 13.2 C5.6 16 6.6 17.6 8.6 17.6 H13.4 C15.4 17.6 16.4 16 16.4 13.2 C16.4 11.5 16 10 15.2 8.8"/><path d="M12.3 10.2 C11.6 9.5 9.6 9.6 9.7 10.9 C9.8 12 12.3 11.9 12.3 13.3 C12.3 14.6 10.2 14.8 9.4 13.9 M11 8.9 V15.8"/><path d="M14.5 10 L18.8 7.6"/></g><path d="M17 6.6 L19.6 6.9 L18.9 9.3 Z" fill="#2a2a2a"/></svg><svg style="position:absolute;left:141.0px;top:353.75px" width="23" height="23" viewBox="-0.5 -0.5 23 23"><circle cx="11" cy="11" r="10.6" fill="#fff" stroke="#b9b9b9" stroke-width="1.05"/><g fill="none" stroke="#2a2a2a" stroke-width="0.8"><path d="M9.7 6.2 V4.4 H12.3 V6.2"/><path d="M8.2 7.6 H13.8 M8.2 9.6 H13.8"/><path d="M7.3 7.3 Q5.6 8.3 4.9 10.4 M14.7 7.3 Q16.4 8.3 17.1 10.4" stroke-dasharray="1.2 0.8"/><path d="M2.8 17.2 V14.3 H8.1 V17.2 Z M13.9 17.2 V14.3 H19.2 V17.2 Z"/><path d="M4.2 14.2 L4.8 12 H6.1 L6.7 14.2 M15.3 14.2 L15.9 12 H17.2 L17.8 14.2"/><path d="M8.8 18 H13.2" stroke-dasharray="1 1.1"/></g></svg><svg style="position:absolute;left:171.0px;top:353.75px" width="23" height="23" viewBox="-0.5 -0.5 23 23"><circle cx="11" cy="11" r="10.6" fill="#fff" stroke="#b9b9b9" stroke-width="1.05"/><g fill="none" stroke="#2a2a2a" stroke-width="0.8"><path d="M6.6 6.3 C5 5.2 3.4 6.6 3.6 8.3 C3.8 9.8 5.4 10.6 6.8 9.8"/><path d="M6.6 6.3 L5.4 8 L6.8 9.8"/><path d="M7.4 6.8 H8.4 M9.4 7.2 H12.4 M9.4 9.1 H12.4 M7 10.2 L10.4 12.6 M11.2 12.4 L12.4 11.2 M14.1 8.4 V12.6"/><path d="M9.6 16.8 L10.4 13.6 H15.8 L16.6 16.8"/><path d="M11.2 15.8 C11.8 14.6 14.2 14.6 14.8 15.8"/></g><rect x="8.8" y="16.5" width="8.7" height="1.3" fill="#2a2a2a"/><circle cx="14.1" cy="7.9" r="0.9" fill="#2a2a2a"/></svg>
<div class="t lnk" style="left:206px;top:358.40000000000003px;font-size:10.3px">RR25000064</div>
<div class="t" style="left:330.5px;top:350.7px">DLXPACCTWN</div><div class="t" style="left:330.5px;top:364.2px">DLXPACCTWN</div>
<div class="t" style="left:458.5px;top:350.7px;font-weight:bold">106</div><div class="t" style="left:458.5px;top:364.2px">Deluxe Pool Access T...</div>
<div class="t" style="left:583px;top:357.6px;word-spacing:0.6px">Fafa Af | Miss</div>
<div class="t" style="left:707.5px;top:350.7px">23/03/2025</div><div class="t" style="left:707.5px;top:364.2px">14:00</div>
<div class="t" style="left:779.5px;top:350.7px">26/03/2025</div><div class="t" style="left:779.5px;top:364.2px">12:00</div>
<div class="t" style="left:867px;width:80px;text-align:center;top:350.7px">1</div><div class="t" style="left:867px;width:80px;text-align:center;top:364.2px">3</div>
<div class="t" style="left:975.5px;top:350.7px">2A</div><div class="t" style="left:975.5px;top:364.2px">0C 0F</div>
<div style="position:absolute;left:9px;top:422.5px;width:1292px;height:1px;background:#d9d9d9"></div>
<div class="cb" style="top:391.75px"></div>
<svg style="position:absolute;left:51px;top:392.25px" width="23" height="23" viewBox="0 0 23 23">
<circle cx="11.45" cy="11.6" r="11" fill="#389a5e"/>
<path d="M11.6 4.35 A7.25 7.25 0 1 0 18.6 11.6" fill="none" stroke="#b9f3cd" stroke-width="0.95"/>
<path d="M7.1 11.7 L9.9 14.5 L15.1 9.2" fill="none" stroke="#e6fff0" stroke-width="2.1" stroke-linecap="round" stroke-linejoin="round"/></svg><svg style="position:absolute;left:81.5px;top:392.25px" width="23" height="23" viewBox="-0.5 -0.5 23 23"><circle cx="11" cy="11" r="10.6" fill="#fff" stroke="#b9b9b9" stroke-width="1.05"/><circle cx="11" cy="10.8" r="5.9" fill="none" stroke="#222" stroke-width="0.85"/><path d="M9.6 3.9 L13 4.9 L9.6 6.1 Z M18.1 9.4 L16.9 12.8 L15.7 9.4 Z M12.4 17.7 L9 16.7 L12.4 15.5 Z M3.9 12.2 L5.1 8.8 L6.3 12.2 Z" fill="#111"/></svg><svg style="position:absolute;left:111.0px;top:392.25px" width="23" height="23" viewBox="-0.5 -0.5 23 23"><circle cx="11" cy="11" r="10.6" fill="#fff" stroke="#b9b9b9" stroke-width="1.05"/><g fill="none" stroke="#1a1a1a" stroke-width="0.9" stroke-linejoin="round"><path d="M7.6 4.3 H14.3 L13.3 6.2 H8.6 Z"/><path d="M8.4 6.5 C6.5 8 5.6 10.5 5.6 13.2 C5.6 16 6.6 17.6 8.6 17.6 H13.4 C15.4 17.6 16.4 16 16.4 13.2 C16.4 11.5 16 10 15.2 8.8"/><path d="M12.3 10.2 C11.6 9.5 9.6 9.6 9.7 10.9 C9.8 12 12.3 11.9 12.3 13.3 C12.3 14.6 10.2 14.8 9.4 13.9 M11 8.9 V15.8"/><path d="M14.5 10 L18.8 7.6"/></g><path d="M17 6.6 L19.6 6.9 L18.9 9.3 Z" fill="#2a2a2a"/></svg><svg style="position:absolute;left:141.0px;top:392.25px" width="23" height="23" viewBox="-0.5 -0.5 23 23"><circle cx="11" cy="11" r="10.6" fill="#fff" stroke="#b9b9b9" stroke-width="1.05"/><g fill="none" stroke="#2a2a2a" stroke-width="0.8"><path d="M9.7 6.2 V4.4 H12.3 V6.2"/><path d="M8.2 7.6 H13.8 M8.2 9.6 H13.8"/><path d="M7.3 7.3 Q5.6 8.3 4.9 10.4 M14.7 7.3 Q16.4 8.3 17.1 10.4" stroke-dasharray="1.2 0.8"/><path d="M2.8 17.2 V14.3 H8.1 V17.2 Z M13.9 17.2 V14.3 H19.2 V17.2 Z"/><path d="M4.2 14.2 L4.8 12 H6.1 L6.7 14.2 M15.3 14.2 L15.9 12 H17.2 L17.8 14.2"/><path d="M8.8 18 H13.2" stroke-dasharray="1 1.1"/></g></svg><svg style="position:absolute;left:171.0px;top:392.25px" width="23" height="23" viewBox="-0.5 -0.5 23 23"><circle cx="11" cy="11" r="10.6" fill="#fff" stroke="#b9b9b9" stroke-width="1.05"/><g fill="none" stroke="#2a2a2a" stroke-width="0.8"><path d="M6.6 6.3 C5 5.2 3.4 6.6 3.6 8.3 C3.8 9.8 5.4 10.6 6.8 9.8"/><path d="M6.6 6.3 L5.4 8 L6.8 9.8"/><path d="M7.4 6.8 H8.4 M9.4 7.2 H12.4 M9.4 9.1 H12.4 M7 10.2 L10.4 12.6 M11.2 12.4 L12.4 11.2 M14.1 8.4 V12.6"/><path d="M9.6 16.8 L10.4 13.6 H15.8 L16.6 16.8"/><path d="M11.2 15.8 C11.8 14.6 14.2 14.6 14.8 15.8"/></g><rect x="8.8" y="16.5" width="8.7" height="1.3" fill="#2a2a2a"/><circle cx="14.1" cy="7.9" r="0.9" fill="#2a2a2a"/></svg>
<div class="t lnk" style="left:206px;top:396.90000000000003px;font-size:10.3px">RR25000067</div>
<div class="t" style="left:330.5px;top:389.2px">DLXT</div><div class="t" style="left:330.5px;top:402.7px">DLXT</div>
<div class="t" style="left:458.5px;top:389.2px;font-weight:bold">205</div><div class="t" style="left:458.5px;top:402.7px">Deluxe Twin <span class="th">มีภาษา</span></div>
<div class="t" style="left:583px;top:396.1px;word-spacing:0.6px">Jason SON | Mr.</div>
<div class="t" style="left:707.5px;top:389.2px">23/03/2025</div><div class="t" style="left:707.5px;top:402.7px">14:00</div>
<div class="t" style="left:779.5px;top:389.2px">24/03/2025</div><div class="t" style="left:779.5px;top:402.7px">12:00</div>
<div class="t" style="left:867px;width:80px;text-align:center;top:389.2px">1</div><div class="t" style="left:867px;width:80px;text-align:center;top:402.7px">1</div>
<div class="t" style="left:975.5px;top:389.2px">2A</div><div class="t" style="left:975.5px;top:402.7px">0C 0F</div>
<div style="position:absolute;left:9px;top:461.0px;width:1292px;height:1px;background:#d9d9d9"></div>
<div class="cb" style="top:430.25px"></div>
<svg style="position:absolute;left:51px;top:430.75px" width="23" height="23" viewBox="0 0 23 23">
<circle cx="11.45" cy="11.6" r="11" fill="#389a5e"/>
<path d="M11.6 4.35 A7.25 7.25 0 1 0 18.6 11.6" fill="none" stroke="#b9f3cd" stroke-width="0.95"/>
<path d="M7.1 11.7 L9.9 14.5 L15.1 9.2" fill="none" stroke="#e6fff0" stroke-width="2.1" stroke-linecap="round" stroke-linejoin="round"/></svg><svg style="position:absolute;left:81.5px;top:430.75px" width="23" height="23" viewBox="-0.5 -0.5 23 23"><circle cx="11" cy="11" r="10.6" fill="#fff" stroke="#b9b9b9" stroke-width="1.05"/><circle cx="11" cy="10.8" r="5.9" fill="none" stroke="#222" stroke-width="0.85"/><path d="M9.6 3.9 L13 4.9 L9.6 6.1 Z M18.1 9.4 L16.9 12.8 L15.7 9.4 Z M12.4 17.7 L9 16.7 L12.4 15.5 Z M3.9 12.2 L5.1 8.8 L6.3 12.2 Z" fill="#111"/></svg><svg style="position:absolute;left:111.0px;top:430.75px" width="23" height="23" viewBox="-0.5 -0.5 23 23"><circle cx="11" cy="11" r="10.6" fill="#fff" stroke="#b9b9b9" stroke-width="1.05"/><g fill="none" stroke="#1a1a1a" stroke-width="0.9" stroke-linejoin="round"><path d="M7.6 4.3 H14.3 L13.3 6.2 H8.6 Z"/><path d="M8.4 6.5 C6.5 8 5.6 10.5 5.6 13.2 C5.6 16 6.6 17.6 8.6 17.6 H13.4 C15.4 17.6 16.4 16 16.4 13.2 C16.4 11.5 16 10 15.2 8.8"/><path d="M12.3 10.2 C11.6 9.5 9.6 9.6 9.7 10.9 C9.8 12 12.3 11.9 12.3 13.3 C12.3 14.6 10.2 14.8 9.4 13.9 M11 8.9 V15.8"/><path d="M14.5 10 L18.8 7.6"/></g><path d="M17 6.6 L19.6 6.9 L18.9 9.3 Z" fill="#2a2a2a"/></svg><svg style="position:absolute;left:141.0px;top:430.75px" width="23" height="23" viewBox="-0.5 -0.5 23 23"><circle cx="11" cy="11" r="10.6" fill="#fff" stroke="#b9b9b9" stroke-width="1.05"/><g fill="none" stroke="#2a2a2a" stroke-width="0.8"><path d="M9.7 6.2 V4.4 H12.3 V6.2"/><path d="M8.2 7.6 H13.8 M8.2 9.6 H13.8"/><path d="M7.3 7.3 Q5.6 8.3 4.9 10.4 M14.7 7.3 Q16.4 8.3 17.1 10.4" stroke-dasharray="1.2 0.8"/><path d="M2.8 17.2 V14.3 H8.1 V17.2 Z M13.9 17.2 V14.3 H19.2 V17.2 Z"/><path d="M4.2 14.2 L4.8 12 H6.1 L6.7 14.2 M15.3 14.2 L15.9 12 H17.2 L17.8 14.2"/><path d="M8.8 18 H13.2" stroke-dasharray="1 1.1"/></g></svg><svg style="position:absolute;left:171.0px;top:430.75px" width="23" height="23" viewBox="-0.5 -0.5 23 23"><circle cx="11" cy="11" r="10.6" fill="#fff" stroke="#b9b9b9" stroke-width="1.05"/><g fill="none" stroke="#2a2a2a" stroke-width="0.8"><path d="M6.6 6.3 C5 5.2 3.4 6.6 3.6 8.3 C3.8 9.8 5.4 10.6 6.8 9.8"/><path d="M6.6 6.3 L5.4 8 L6.8 9.8"/><path d="M7.4 6.8 H8.4 M9.4 7.2 H12.4 M9.4 9.1 H12.4 M7 10.2 L10.4 12.6 M11.2 12.4 L12.4 11.2 M14.1 8.4 V12.6"/><path d="M9.6 16.8 L10.4 13.6 H15.8 L16.6 16.8"/><path d="M11.2 15.8 C11.8 14.6 14.2 14.6 14.8 15.8"/></g><rect x="8.8" y="16.5" width="8.7" height="1.3" fill="#2a2a2a"/><circle cx="14.1" cy="7.9" r="0.9" fill="#2a2a2a"/></svg>
<div class="t lnk" style="left:206px;top:435.40000000000003px;font-size:10.3px">RR25000068-2</div>
<div class="t" style="left:330.5px;top:427.7px">DLXT</div><div class="t" style="left:330.5px;top:441.2px">DLXT</div>
<div class="t" style="left:458.5px;top:434.6px">Deluxe Twin <span class="th">มีภาษา</span></div>
<div class="t" style="left:583px;top:434.6px;word-spacing:0.6px">Tippa PA | Mrs.</div>
<div class="t" style="left:707.5px;top:427.7px">23/03/2025</div><div class="t" style="left:707.5px;top:441.2px">14:00</div>
<div class="t" style="left:779.5px;top:427.7px">24/03/2025</div><div class="t" style="left:779.5px;top:441.2px">12:00</div>
<div class="t" style="left:867px;width:80px;text-align:center;top:427.7px">1</div><div class="t" style="left:867px;width:80px;text-align:center;top:441.2px">1</div>
<div class="t" style="left:975.5px;top:427.7px">2A</div><div class="t" style="left:975.5px;top:441.2px">0C 0F</div>
<div style="position:absolute;left:9px;top:499.5px;width:1292px;height:1px;background:#d9d9d9"></div>
<div class="cb" style="top:468.75px"></div>
<svg style="position:absolute;left:51px;top:469.25px" width="23" height="23" viewBox="0 0 23 23">
<circle cx="11.45" cy="11.6" r="11" fill="#389a5e"/>
<path d="M11.6 4.35 A7.25 7.25 0 1 0 18.6 11.6" fill="none" stroke="#b9f3cd" stroke-width="0.95"/>
<path d="M7.1 11.7 L9.9 14.5 L15.1 9.2" fill="none" stroke="#e6fff0" stroke-width="2.1" stroke-linecap="round" stroke-linejoin="round"/></svg><svg style="position:absolute;left:81.5px;top:469.25px" width="23" height="23" viewBox="-0.5 -0.5 23 23"><circle cx="11" cy="11" r="10.6" fill="#fff" stroke="#b9b9b9" stroke-width="1.05"/><circle cx="11" cy="10.8" r="5.9" fill="none" stroke="#222" stroke-width="0.85"/><path d="M9.6 3.9 L13 4.9 L9.6 6.1 Z M18.1 9.4 L16.9 12.8 L15.7 9.4 Z M12.4 17.7 L9 16.7 L12.4 15.5 Z M3.9 12.2 L5.1 8.8 L6.3 12.2 Z" fill="#111"/></svg><svg style="position:absolute;left:111.0px;top:469.25px" width="23" height="23" viewBox="-0.5 -0.5 23 23"><circle cx="11" cy="11" r="10.6" fill="#fff" stroke="#b9b9b9" stroke-width="1.05"/><g fill="none" stroke="#1a1a1a" stroke-width="0.9" stroke-linejoin="round"><path d="M7.6 4.3 H14.3 L13.3 6.2 H8.6 Z"/><path d="M8.4 6.5 C6.5 8 5.6 10.5 5.6 13.2 C5.6 16 6.6 17.6 8.6 17.6 H13.4 C15.4 17.6 16.4 16 16.4 13.2 C16.4 11.5 16 10 15.2 8.8"/><path d="M12.3 10.2 C11.6 9.5 9.6 9.6 9.7 10.9 C9.8 12 12.3 11.9 12.3 13.3 C12.3 14.6 10.2 14.8 9.4 13.9 M11 8.9 V15.8"/><path d="M14.5 10 L18.8 7.6"/></g><path d="M17 6.6 L19.6 6.9 L18.9 9.3 Z" fill="#2a2a2a"/></svg><svg style="position:absolute;left:141.0px;top:469.25px" width="23" height="23" viewBox="-0.5 -0.5 23 23"><circle cx="11" cy="11" r="10.6" fill="#fff" stroke="#b9b9b9" stroke-width="1.05"/><g fill="none" stroke="#2a2a2a" stroke-width="0.8"><path d="M9.7 6.2 V4.4 H12.3 V6.2"/><path d="M8.2 7.6 H13.8 M8.2 9.6 H13.8"/><path d="M7.3 7.3 Q5.6 8.3 4.9 10.4 M14.7 7.3 Q16.4 8.3 17.1 10.4" stroke-dasharray="1.2 0.8"/><path d="M2.8 17.2 V14.3 H8.1 V17.2 Z M13.9 17.2 V14.3 H19.2 V17.2 Z"/><path d="M4.2 14.2 L4.8 12 H6.1 L6.7 14.2 M15.3 14.2 L15.9 12 H17.2 L17.8 14.2"/><path d="M8.8 18 H13.2" stroke-dasharray="1 1.1"/></g></svg><svg style="position:absolute;left:171.0px;top:469.25px" width="23" height="23" viewBox="-0.5 -0.5 23 23"><circle cx="11" cy="11" r="10.6" fill="#fff" stroke="#b9b9b9" stroke-width="1.05"/><g fill="none" stroke="#2a2a2a" stroke-width="0.8"><path d="M6.6 6.3 C5 5.2 3.4 6.6 3.6 8.3 C3.8 9.8 5.4 10.6 6.8 9.8"/><path d="M6.6 6.3 L5.4 8 L6.8 9.8"/><path d="M7.4 6.8 H8.4 M9.4 7.2 H12.4 M9.4 9.1 H12.4 M7 10.2 L10.4 12.6 M11.2 12.4 L12.4 11.2 M14.1 8.4 V12.6"/><path d="M9.6 16.8 L10.4 13.6 H15.8 L16.6 16.8"/><path d="M11.2 15.8 C11.8 14.6 14.2 14.6 14.8 15.8"/></g><rect x="8.8" y="16.5" width="8.7" height="1.3" fill="#2a2a2a"/><circle cx="14.1" cy="7.9" r="0.9" fill="#2a2a2a"/></svg>
<div class="t lnk" style="left:206px;top:473.90000000000003px;font-size:10.3px">RR25000069</div>
<div class="t" style="left:330.5px;top:466.2px">RVS</div><div class="t" style="left:330.5px;top:479.7px">RVS</div>
<div class="t" style="left:458.5px;top:466.2px;font-weight:bold">134</div><div class="t" style="left:458.5px;top:479.7px">River Suite</div>
<div class="t" style="left:583px;top:473.1px;word-spacing:0.6px">Girl GG | Miss</div>
<div class="t" style="left:707.5px;top:466.2px">23/03/2025</div><div class="t" style="left:707.5px;top:479.7px">14:00</div>
<div class="t" style="left:779.5px;top:466.2px">24/03/2025</div><div class="t" style="left:779.5px;top:479.7px">12:00</div>
<div class="t" style="left:867px;width:80px;text-align:center;top:466.2px">1</div><div class="t" style="left:867px;width:80px;text-align:center;top:479.7px">1</div>
<div class="t" style="left:975.5px;top:466.2px">2A</div><div class="t" style="left:975.5px;top:479.7px">1C 0F</div>
<div style="position:absolute;left:9px;top:538.0px;width:1292px;height:1px;background:#d9d9d9"></div>
<div class="cb" style="top:507.25px"></div>
<svg style="position:absolute;left:51px;top:507.75px" width="23" height="23" viewBox="0 0 23 23">
<circle cx="11.45" cy="11.6" r="11" fill="#389a5e"/>
<path d="M11.6 4.35 A7.25 7.25 0 1 0 18.6 11.6" fill="none" stroke="#b9f3cd" stroke-width="0.95"/>
<path d="M7.1 11.7 L9.9 14.5 L15.1 9.2" fill="none" stroke="#e6fff0" stroke-width="2.1" stroke-linecap="round" stroke-linejoin="round"/></svg><svg style="position:absolute;left:81.5px;top:507.75px" width="23" height="23" viewBox="-0.5 -0.5 23 23"><circle cx="11" cy="11" r="10.6" fill="#fff" stroke="#b9b9b9" stroke-width="1.05"/><circle cx="11" cy="10.8" r="5.9" fill="none" stroke="#222" stroke-width="0.85"/><path d="M9.6 3.9 L13 4.9 L9.6 6.1 Z M18.1 9.4 L16.9 12.8 L15.7 9.4 Z M12.4 17.7 L9 16.7 L12.4 15.5 Z M3.9 12.2 L5.1 8.8 L6.3 12.2 Z" fill="#111"/></svg><svg style="position:absolute;left:111.0px;top:507.75px" width="23" height="23" viewBox="-0.5 -0.5 23 23"><circle cx="11" cy="11" r="10.6" fill="#fff" stroke="#b9b9b9" stroke-width="1.05"/><g fill="none" stroke="#1a1a1a" stroke-width="0.9" stroke-linejoin="round"><path d="M7.6 4.3 H14.3 L13.3 6.2 H8.6 Z"/><path d="M8.4 6.5 C6.5 8 5.6 10.5 5.6 13.2 C5.6 16 6.6 17.6 8.6 17.6 H13.4 C15.4 17.6 16.4 16 16.4 13.2 C16.4 11.5 16 10 15.2 8.8"/><path d="M12.3 10.2 C11.6 9.5 9.6 9.6 9.7 10.9 C9.8 12 12.3 11.9 12.3 13.3 C12.3 14.6 10.2 14.8 9.4 13.9 M11 8.9 V15.8"/><path d="M14.5 10 L18.8 7.6"/></g><path d="M17 6.6 L19.6 6.9 L18.9 9.3 Z" fill="#2a2a2a"/></svg><svg style="position:absolute;left:141.0px;top:507.75px" width="23" height="23" viewBox="-0.5 -0.5 23 23"><circle cx="11" cy="11" r="10.6" fill="#fff" stroke="#b9b9b9" stroke-width="1.05"/><g fill="none" stroke="#2a2a2a" stroke-width="0.8"><path d="M9.7 6.2 V4.4 H12.3 V6.2"/><path d="M8.2 7.6 H13.8 M8.2 9.6 H13.8"/><path d="M7.3 7.3 Q5.6 8.3 4.9 10.4 M14.7 7.3 Q16.4 8.3 17.1 10.4" stroke-dasharray="1.2 0.8"/><path d="M2.8 17.2 V14.3 H8.1 V17.2 Z M13.9 17.2 V14.3 H19.2 V17.2 Z"/><path d="M4.2 14.2 L4.8 12 H6.1 L6.7 14.2 M15.3 14.2 L15.9 12 H17.2 L17.8 14.2"/><path d="M8.8 18 H13.2" stroke-dasharray="1 1.1"/></g></svg><svg style="position:absolute;left:171.0px;top:507.75px" width="23" height="23" viewBox="-0.5 -0.5 23 23"><circle cx="11" cy="11" r="10.6" fill="#fff" stroke="#b9b9b9" stroke-width="1.05"/><g fill="none" stroke="#2a2a2a" stroke-width="0.8"><path d="M6.6 6.3 C5 5.2 3.4 6.6 3.6 8.3 C3.8 9.8 5.4 10.6 6.8 9.8"/><path d="M6.6 6.3 L5.4 8 L6.8 9.8"/><path d="M7.4 6.8 H8.4 M9.4 7.2 H12.4 M9.4 9.1 H12.4 M7 10.2 L10.4 12.6 M11.2 12.4 L12.4 11.2 M14.1 8.4 V12.6"/><path d="M9.6 16.8 L10.4 13.6 H15.8 L16.6 16.8"/><path d="M11.2 15.8 C11.8 14.6 14.2 14.6 14.8 15.8"/></g><rect x="8.8" y="16.5" width="8.7" height="1.3" fill="#2a2a2a"/><circle cx="14.1" cy="7.9" r="0.9" fill="#2a2a2a"/></svg>
<div class="t lnk" style="left:206px;top:512.4px;font-size:10.3px">RR25000071</div>
<div class="t" style="left:330.5px;top:504.7px">DPC</div><div class="t" style="left:330.5px;top:518.2px">DPC</div>
<div class="t" style="left:458.5px;top:504.7px;font-weight:bold">224</div><div class="t" style="left:458.5px;top:518.2px">Deluxe Parent-Child</div>
<div class="t" style="left:583px;top:511.6px;word-spacing:0.6px">GERMA SMF | Khun</div>
<div class="t" style="left:707.5px;top:504.7px">23/03/2025</div><div class="t" style="left:707.5px;top:518.2px">14:00</div>
<div class="t" style="left:779.5px;top:504.7px">26/03/2025</div><div class="t" style="left:779.5px;top:518.2px">12:00</div>
<div class="t" style="left:867px;width:80px;text-align:center;top:504.7px">1</div><div class="t" style="left:867px;width:80px;text-align:center;top:518.2px">3</div>
<div class="t" style="left:975.5px;top:504.7px">2A</div><div class="t" style="left:975.5px;top:518.2px">0C 0F</div>
<div style="position:absolute;left:9px;top:576.5px;width:1292px;height:1px;background:#d9d9d9"></div>
<div class="cb" style="top:545.75px"></div>
<svg style="position:absolute;left:51px;top:546.25px" width="23" height="23" viewBox="0 0 23 23">
<circle cx="11.45" cy="11.6" r="11" fill="#389a5e"/>
<path d="M11.6 4.35 A7.25 7.25 0 1 0 18.6 11.6" fill="none" stroke="#b9f3cd" stroke-width="0.95"/>
<path d="M7.1 11.7 L9.9 14.5 L15.1 9.2" fill="none" stroke="#e6fff0" stroke-width="2.1" stroke-linecap="round" stroke-linejoin="round"/></svg><svg style="position:absolute;left:81.5px;top:546.25px" width="23" height="23" viewBox="-0.5 -0.5 23 23"><circle cx="11" cy="11" r="10.6" fill="#fff" stroke="#b9b9b9" stroke-width="1.05"/><circle cx="11" cy="10.8" r="5.9" fill="none" stroke="#222" stroke-width="0.85"/><path d="M9.6 3.9 L13 4.9 L9.6 6.1 Z M18.1 9.4 L16.9 12.8 L15.7 9.4 Z M12.4 17.7 L9 16.7 L12.4 15.5 Z M3.9 12.2 L5.1 8.8 L6.3 12.2 Z" fill="#111"/></svg><svg style="position:absolute;left:111.0px;top:546.25px" width="23" height="23" viewBox="-0.5 -0.5 23 23"><circle cx="11" cy="11" r="10.6" fill="#fff" stroke="#b9b9b9" stroke-width="1.05"/><g fill="none" stroke="#1a1a1a" stroke-width="0.9" stroke-linejoin="round"><path d="M7.6 4.3 H14.3 L13.3 6.2 H8.6 Z"/><path d="M8.4 6.5 C6.5 8 5.6 10.5 5.6 13.2 C5.6 16 6.6 17.6 8.6 17.6 H13.4 C15.4 17.6 16.4 16 16.4 13.2 C16.4 11.5 16 10 15.2 8.8"/><path d="M12.3 10.2 C11.6 9.5 9.6 9.6 9.7 10.9 C9.8 12 12.3 11.9 12.3 13.3 C12.3 14.6 10.2 14.8 9.4 13.9 M11 8.9 V15.8"/><path d="M14.5 10 L18.8 7.6"/></g><path d="M17 6.6 L19.6 6.9 L18.9 9.3 Z" fill="#2a2a2a"/></svg><svg style="position:absolute;left:141.0px;top:546.25px" width="23" height="23" viewBox="-0.5 -0.5 23 23"><circle cx="11" cy="11" r="10.6" fill="#fff" stroke="#b9b9b9" stroke-width="1.05"/><g fill="none" stroke="#2a2a2a" stroke-width="0.8"><path d="M9.7 6.2 V4.4 H12.3 V6.2"/><path d="M8.2 7.6 H13.8 M8.2 9.6 H13.8"/><path d="M7.3 7.3 Q5.6 8.3 4.9 10.4 M14.7 7.3 Q16.4 8.3 17.1 10.4" stroke-dasharray="1.2 0.8"/><path d="M2.8 17.2 V14.3 H8.1 V17.2 Z M13.9 17.2 V14.3 H19.2 V17.2 Z"/><path d="M4.2 14.2 L4.8 12 H6.1 L6.7 14.2 M15.3 14.2 L15.9 12 H17.2 L17.8 14.2"/><path d="M8.8 18 H13.2" stroke-dasharray="1 1.1"/></g></svg><svg style="position:absolute;left:171.0px;top:546.25px" width="23" height="23" viewBox="-0.5 -0.5 23 23"><circle cx="11" cy="11" r="10.6" fill="#fff" stroke="#b9b9b9" stroke-width="1.05"/><g fill="none" stroke="#2a2a2a" stroke-width="0.8"><path d="M6.6 6.3 C5 5.2 3.4 6.6 3.6 8.3 C3.8 9.8 5.4 10.6 6.8 9.8"/><path d="M6.6 6.3 L5.4 8 L6.8 9.8"/><path d="M7.4 6.8 H8.4 M9.4 7.2 H12.4 M9.4 9.1 H12.4 M7 10.2 L10.4 12.6 M11.2 12.4 L12.4 11.2 M14.1 8.4 V12.6"/><path d="M9.6 16.8 L10.4 13.6 H15.8 L16.6 16.8"/><path d="M11.2 15.8 C11.8 14.6 14.2 14.6 14.8 15.8"/></g><rect x="8.8" y="16.5" width="8.7" height="1.3" fill="#2a2a2a"/><circle cx="14.1" cy="7.9" r="0.9" fill="#2a2a2a"/></svg>
<div class="t lnk" style="left:206px;top:550.9px;font-size:10.3px">RR25000072</div>
<div class="t" style="left:330.5px;top:543.2px">DLXT</div><div class="t" style="left:330.5px;top:556.7px">DLXT</div>
<div class="t" style="left:458.5px;top:543.2px;font-weight:bold">202</div><div class="t" style="left:458.5px;top:556.7px">Deluxe Twin <span class="th">มีภาษา</span></div>
<div class="t" style="left:583px;top:550.1px;word-spacing:0.6px">LUNA SMF | Khun</div>
<div class="t" style="left:707.5px;top:543.2px">23/03/2025</div><div class="t" style="left:707.5px;top:556.7px">14:00</div>
<div class="t" style="left:779.5px;top:543.2px">27/03/2025</div><div class="t" style="left:779.5px;top:556.7px">12:00</div>
<div class="t" style="left:867px;width:80px;text-align:center;top:543.2px">1</div><div class="t" style="left:867px;width:80px;text-align:center;top:556.7px">4</div>
<div class="t" style="left:975.5px;top:543.2px">2A</div><div class="t" style="left:975.5px;top:556.7px">0C 0F</div>
<div style="position:absolute;left:9px;top:615.0px;width:1292px;height:1px;background:#d9d9d9"></div>
<div class="cb" style="top:584.25px"></div>
<svg style="position:absolute;left:51px;top:584.75px" width="23" height="23" viewBox="0 0 23 23">
<circle cx="11.45" cy="11.6" r="11" fill="#389a5e"/>
<path d="M11.6 4.35 A7.25 7.25 0 1 0 18.6 11.6" fill="none" stroke="#b9f3cd" stroke-width="0.95"/>
<path d="M7.1 11.7 L9.9 14.5 L15.1 9.2" fill="none" stroke="#e6fff0" stroke-width="2.1" stroke-linecap="round" stroke-linejoin="round"/></svg><svg style="position:absolute;left:81.5px;top:584.75px" width="23" height="23" viewBox="-0.5 -0.5 23 23"><circle cx="11" cy="11" r="10.6" fill="#fff" stroke="#b9b9b9" stroke-width="1.05"/><circle cx="11" cy="10.8" r="5.9" fill="none" stroke="#222" stroke-width="0.85"/><path d="M9.6 3.9 L13 4.9 L9.6 6.1 Z M18.1 9.4 L16.9 12.8 L15.7 9.4 Z M12.4 17.7 L9 16.7 L12.4 15.5 Z M3.9 12.2 L5.1 8.8 L6.3 12.2 Z" fill="#111"/></svg><svg style="position:absolute;left:111.0px;top:584.75px" width="23" height="23" viewBox="-0.5 -0.5 23 23"><circle cx="11" cy="11" r="10.6" fill="#fff" stroke="#b9b9b9" stroke-width="1.05"/><g fill="none" stroke="#1a1a1a" stroke-width="0.9" stroke-linejoin="round"><path d="M7.6 4.3 H14.3 L13.3 6.2 H8.6 Z"/><path d="M8.4 6.5 C6.5 8 5.6 10.5 5.6 13.2 C5.6 16 6.6 17.6 8.6 17.6 H13.4 C15.4 17.6 16.4 16 16.4 13.2 C16.4 11.5 16 10 15.2 8.8"/><path d="M12.3 10.2 C11.6 9.5 9.6 9.6 9.7 10.9 C9.8 12 12.3 11.9 12.3 13.3 C12.3 14.6 10.2 14.8 9.4 13.9 M11 8.9 V15.8"/><path d="M14.5 10 L18.8 7.6"/></g><path d="M17 6.6 L19.6 6.9 L18.9 9.3 Z" fill="#2a2a2a"/></svg><svg style="position:absolute;left:141.0px;top:584.75px" width="23" height="23" viewBox="-0.5 -0.5 23 23"><circle cx="11" cy="11" r="10.6" fill="#fff" stroke="#b9b9b9" stroke-width="1.05"/><g fill="none" stroke="#2a2a2a" stroke-width="0.8"><path d="M9.7 6.2 V4.4 H12.3 V6.2"/><path d="M8.2 7.6 H13.8 M8.2 9.6 H13.8"/><path d="M7.3 7.3 Q5.6 8.3 4.9 10.4 M14.7 7.3 Q16.4 8.3 17.1 10.4" stroke-dasharray="1.2 0.8"/><path d="M2.8 17.2 V14.3 H8.1 V17.2 Z M13.9 17.2 V14.3 H19.2 V17.2 Z"/><path d="M4.2 14.2 L4.8 12 H6.1 L6.7 14.2 M15.3 14.2 L15.9 12 H17.2 L17.8 14.2"/><path d="M8.8 18 H13.2" stroke-dasharray="1 1.1"/></g></svg><svg style="position:absolute;left:171.0px;top:584.75px" width="23" height="23" viewBox="-0.5 -0.5 23 23"><circle cx="11" cy="11" r="10.6" fill="#fff" stroke="#b9b9b9" stroke-width="1.05"/><g fill="none" stroke="#2a2a2a" stroke-width="0.8"><path d="M6.6 6.3 C5 5.2 3.4 6.6 3.6 8.3 C3.8 9.8 5.4 10.6 6.8 9.8"/><path d="M6.6 6.3 L5.4 8 L6.8 9.8"/><path d="M7.4 6.8 H8.4 M9.4 7.2 H12.4 M9.4 9.1 H12.4 M7 10.2 L10.4 12.6 M11.2 12.4 L12.4 11.2 M14.1 8.4 V12.6"/><path d="M9.6 16.8 L10.4 13.6 H15.8 L16.6 16.8"/><path d="M11.2 15.8 C11.8 14.6 14.2 14.6 14.8 15.8"/></g><rect x="8.8" y="16.5" width="8.7" height="1.3" fill="#2a2a2a"/><circle cx="14.1" cy="7.9" r="0.9" fill="#2a2a2a"/></svg>
<div class="t lnk" style="left:206px;top:589.4px;font-size:10.3px">RR25000073</div>
<div class="t" style="left:330.5px;top:581.7px">DLXT</div><div class="t" style="left:330.5px;top:595.2px">DLXT</div>
<div class="t" style="left:458.5px;top:581.7px;font-weight:bold">112</div><div class="t" style="left:458.5px;top:595.2px">Deluxe Twin <span class="th">มีภาษา</span></div>
<div class="t" style="left:583px;top:588.6px;word-spacing:0.6px">Nana NA | Miss</div>
<div class="t" style="left:707.5px;top:581.7px">23/03/2025</div><div class="t" style="left:707.5px;top:595.2px">14:00</div>
<div class="t" style="left:779.5px;top:581.7px">26/03/2025</div><div class="t" style="left:779.5px;top:595.2px">12:00</div>
<div class="t" style="left:867px;width:80px;text-align:center;top:581.7px">1</div><div class="t" style="left:867px;width:80px;text-align:center;top:595.2px">3</div>
<div class="t" style="left:975.5px;top:581.7px">2A</div><div class="t" style="left:975.5px;top:595.2px">0C 0F</div>
<div style="position:absolute;left:1301px;top:116px;width:6.5px;height:232px;background:#bdbdbd;border-radius:0 3px 3px 3px"></div>
<div style="position:absolute;left:9px;top:616px;width:540px;height:6.5px;background:#bdbdbd;border-radius:0 3px 3px 3px"></div>
</body></html>
